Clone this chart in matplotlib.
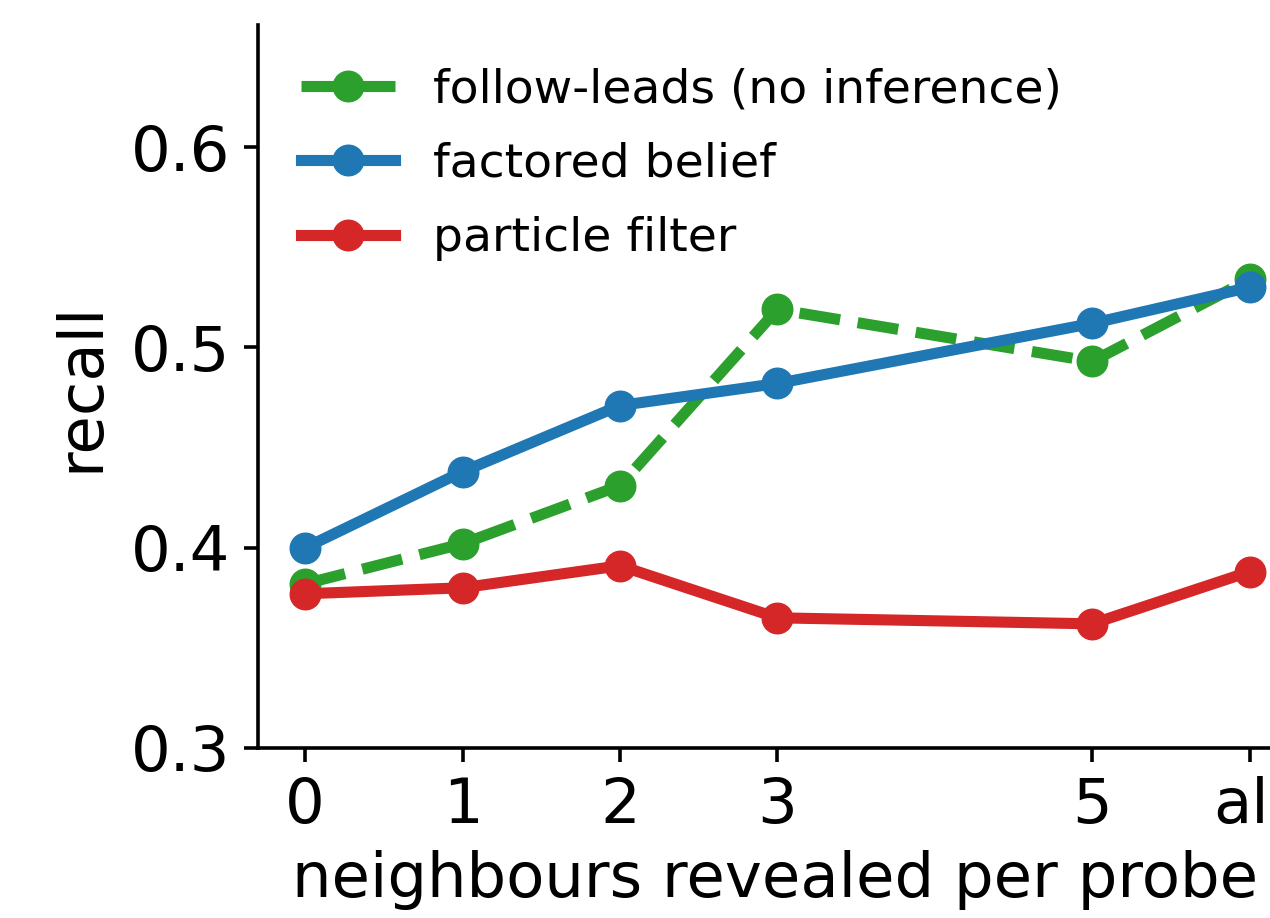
import matplotlib
matplotlib.use("Agg")
import matplotlib.pyplot as plt

# neighbours revealed per probe ("all" sits at position 6)
x_pos = [0, 1, 2, 3, 5, 6]
x_labels = ["0", "1", "2", "3", "5", "all"]

follow_leads = [0.382, 0.402, 0.431, 0.519, 0.493, 0.534]
factored_belief = [0.400, 0.438, 0.471, 0.482, 0.512, 0.530]
particle_filter = [0.377, 0.380, 0.391, 0.365, 0.362, 0.388]

fig = plt.figure(figsize=(12.7, 9.18), dpi=100)
# axes run a little past the right edge of the canvas
ax = fig.add_axes([258 / 1270, 170 / 918, 1034 / 1270, 723 / 918])

lw = 8
ms = 22
ax.plot(x_pos, follow_leads, "o--", color="#2ca02c", lw=lw, ms=ms,
        label="follow-leads (no inference)")
ax.plot(x_pos, factored_belief, "o-", color="#1f77b4", lw=lw, ms=ms,
        label="factored belief")
ax.plot(x_pos, particle_filter, "o-", color="#d62728", lw=lw, ms=ms,
        label="particle filter")

ax.set_xlim(-0.3, 6.27)
ax.set_ylim(0.3, 0.661)
ax.set_yticks([0.3, 0.4, 0.5, 0.6])
ax.set_xticks(x_pos)
ax.set_xticklabels(x_labels)

ax.spines["top"].set_visible(False)
ax.spines["right"].set_visible(False)
for s in ("left", "bottom"):
    ax.spines[s].set_linewidth(2.6)
ax.tick_params(labelsize=45, width=2.6, length=10, pad=10)

ax.set_xlabel("neighbours revealed per probe", fontsize=45, labelpad=10)
ax.set_ylabel("recall", fontsize=45, labelpad=14)

ax.legend(loc="upper left", frameon=False, fontsize=34, labelspacing=0.62)

fig.savefig("out.png", dpi=100)
